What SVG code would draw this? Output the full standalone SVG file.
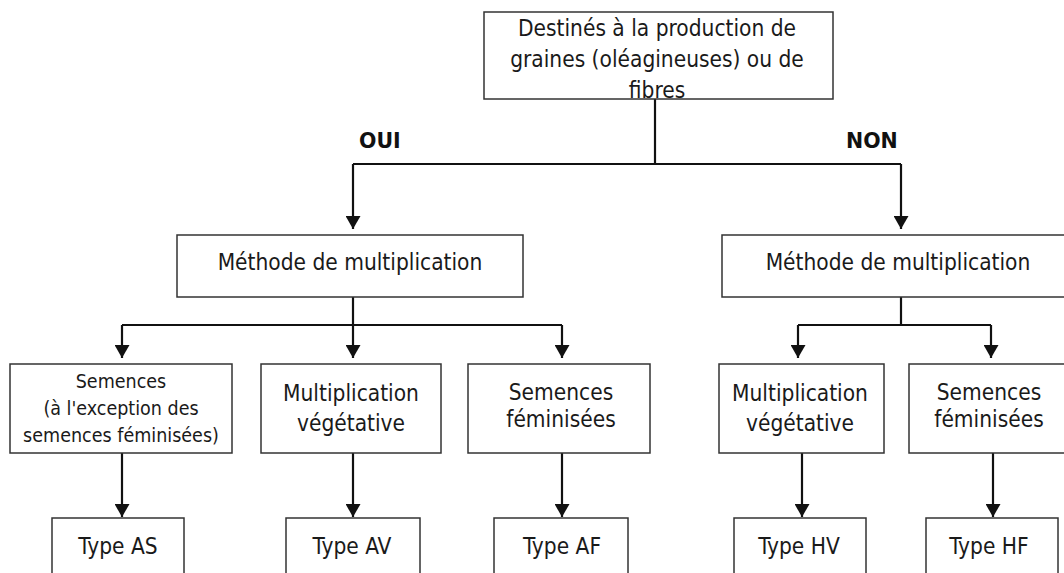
<svg xmlns="http://www.w3.org/2000/svg" width="1064" height="573" viewBox="0 0 1064 573">
<style>
.box{fill:#fff;stroke:#333;stroke-width:1.5}
.t{font-family:"DejaVu Sans Condensed","DejaVu Sans",sans-serif;font-stretch:condensed;font-size:22.5px;fill:#1a1a1a;text-anchor:middle}
.s{font-size:19.5px}
.lbl{font-family:"DejaVu Sans","Liberation Sans",sans-serif;font-weight:bold;font-size:20.5px;fill:#111;text-anchor:start}
.c{fill:none;stroke:#111;stroke-width:2.2}
</style>
<defs>
<marker id="ah" markerUnits="userSpaceOnUse" markerWidth="15" markerHeight="15" refX="13" refY="7.5" orient="auto">
<path d="M0,0 L13,7.5 L0,15 z" fill="#111"/>
</marker>
</defs>
<rect width="1064" height="573" fill="#fff"/>
<g id="connectors">
<path class="c" d="M655,99 V164"/>
<path class="c" d="M353,164 H901"/>
<path class="c" d="M353,164 V229" marker-end="url(#ah)"/>
<path class="c" d="M901,164 V229" marker-end="url(#ah)"/>
<path class="c" d="M353,297 V325"/>
<path class="c" d="M122,325 H562"/>
<path class="c" d="M122,325 V358" marker-end="url(#ah)"/>
<path class="c" d="M353,325 V358" marker-end="url(#ah)"/>
<path class="c" d="M562,325 V358" marker-end="url(#ah)"/>
<path class="c" d="M901,297 V325"/>
<path class="c" d="M798,325 H991"/>
<path class="c" d="M798,325 V358" marker-end="url(#ah)"/>
<path class="c" d="M991,325 V358" marker-end="url(#ah)"/>
<path class="c" d="M122,453 V517" marker-end="url(#ah)"/>
<path class="c" d="M353,453 V517" marker-end="url(#ah)"/>
<path class="c" d="M562,453 V517" marker-end="url(#ah)"/>
<path class="c" d="M802,453 V517" marker-end="url(#ah)"/>
<path class="c" d="M993,453 V517" marker-end="url(#ah)"/>
<text class="lbl" x="359" y="148">OUI</text>
<text class="lbl" x="846" y="148">NON</text>
</g>
<g id="root">
<rect class="box" x="484" y="12" width="349" height="87"/>
<text class="t" x="657" y="36">Destinés à la production de</text>
<text class="t" x="657" y="67">graines (oléagineuses) ou de</text>
<text class="t" x="657" y="98">fibres</text>
</g>
<g id="methode-oui">
<rect class="box" x="177" y="235" width="346" height="62"/>
<text class="t" x="350" y="270">Méthode de multiplication</text>
</g>
<g id="methode-non">
<rect class="box" x="722" y="235" width="352" height="62"/>
<text class="t" x="898" y="270">Méthode de multiplication</text>
</g>
<g id="semences-a">
<rect class="box" x="10" y="364" width="222" height="89"/>
<text class="t s" x="121" y="388">Semences</text>
<text class="t s" x="121" y="415">(à l'exception des</text>
<text class="t s" x="121" y="442">semences féminisées)</text>
</g>
<g id="multi-a">
<rect class="box" x="261" y="364" width="180" height="89"/>
<text class="t" x="351" y="401">Multiplication</text>
<text class="t" x="351" y="431">végétative</text>
</g>
<g id="fem-a">
<rect class="box" x="468" y="364" width="182" height="89"/>
<text class="t" x="561" y="400">Semences</text>
<text class="t" x="561" y="427">féminisées</text>
</g>
<g id="multi-h">
<rect class="box" x="719" y="364" width="165" height="89"/>
<text class="t" x="800" y="401">Multiplication</text>
<text class="t" x="800" y="431">végétative</text>
</g>
<g id="fem-h">
<rect class="box" x="909" y="364" width="160" height="89"/>
<text class="t" x="989" y="400">Semences</text>
<text class="t" x="989" y="427">féminisées</text>
</g>
<g id="type-as">
<rect class="box" x="52" y="518" width="132" height="70"/>
<text class="t" x="118" y="554">Type AS</text>
</g>
<g id="type-av">
<rect class="box" x="286" y="518" width="134" height="70"/>
<text class="t" x="352" y="554">Type AV</text>
</g>
<g id="type-af">
<rect class="box" x="494" y="518" width="134" height="70"/>
<text class="t" x="562" y="554">Type AF</text>
</g>
<g id="type-hv">
<rect class="box" x="734" y="518" width="132" height="70"/>
<text class="t" x="799" y="554">Type HV</text>
</g>
<g id="type-hf">
<rect class="box" x="926" y="518" width="132" height="70"/>
<text class="t" x="989" y="554">Type HF</text>
</g>
</svg>
